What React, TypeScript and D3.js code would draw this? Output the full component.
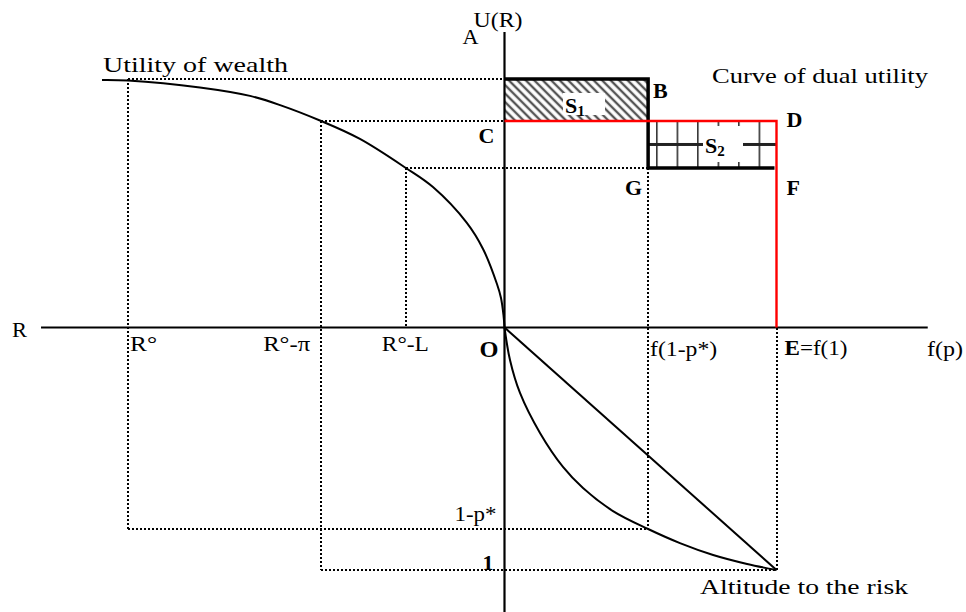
import React from 'react';
import * as d3 from 'd3';

// f(p) on the right, probability p downwards, wealth R on the left, utility U upwards
const utilityLevels = [1, 0.831, 0.642]; // A, C, G
const wealthLevels = [1, 0.487, 0.262]; // R°, R°-π, R°-L
const wealthLabels = ['R°', 'R°-π', 'R°-L'];
const probLevels = [0.831, 1]; // 1-p*, 1
const probLabels = ['1-p*', '1'];
const fStar = 0.528; // f(1-p*)

const wealthCurveR = [1.069, 1.0, 0.809, 0.676, 0.596, 0.487, 0.384, 0.262, 0.19, 0.1, 0.057, 0.02, 0.0093, 0.0027, 0];
const wealthCurveU = [0.996, 0.994, 0.966, 0.932, 0.895, 0.831, 0.759, 0.642, 0.565, 0.421, 0.316, 0.175, 0.119, 0.05, 0];

const riskCurveF = [0, 0.0202, 0.057, 0.1305, 0.215, 0.2886, 0.399, 0.528, 0.645, 0.767, 0.892, 1];
const riskCurveP = [0, 0.134, 0.27, 0.435, 0.575, 0.662, 0.757, 0.831, 0.889, 0.938, 0.975, 1];

const W = 966;
const H = 612;
const FONT = '"Liberation Serif", serif';

const xF = d3.scaleLinear().domain([0, 1]).range([504.5, 776.5]);
const xR = d3.scaleLinear().domain([0, 1]).range([504.5, 128]);
const yU = d3.scaleLinear().domain([0, 1]).range([327.5, 79]);
const yP = d3.scaleLinear().domain([0, 1]).range([327.5, 570]);

const Label = ({ x, y, w, size = 21, bold = false, children }: any) => (
  <text
    x={x}
    y={y}
    fontSize={size}
    fontWeight={bold ? 'bold' : 'normal'}
    textLength={w}
    lengthAdjust={w ? 'spacingAndGlyphs' : undefined}
  >
    {children}
  </text>
);

export default function App() {
  const [uA, uC, uG] = utilityLevels;
  const [rO, rPi, rL] = wealthLevels;
  const [pStar, pOne] = probLevels;
  const x0 = xF(0);
  const y0 = yU(0);

  const wealthPts: [number, number][] = wealthCurveR.map((r, i) => [xR(r), yU(wealthCurveU[i])]);
  const riskPts: [number, number][] = riskCurveF.map((f, i) => [xF(f), yP(riskCurveP[i])]);
  const line = d3.line().curve(d3.curveCatmullRom.alpha(0.5));

  const dotted: [number, number, number, number][] = [
    [xR(rO), yU(uA), x0, yU(uA)],
    [xR(rO), yU(uA), xR(rO), yP(pStar)],
    [xR(rPi), yU(uC), x0, yU(uC)],
    [xR(rPi), yU(uC), xR(rPi), yP(pOne)],
    [xR(rL), yU(uG), xF(fStar), yU(uG)],
    [xR(rL), yU(uG), xR(rL), y0],
    [xF(fStar), yU(uG), xF(fStar), yP(pStar)],
    [xR(rO), yP(pStar), xF(fStar), yP(pStar)],
    [xR(rPi), yP(pOne), xF(1), yP(pOne)],
    [xF(1), y0, xF(1), yP(pOne)],
  ];

  const blackStep = d3.line()([
    [x0, yU(uA)], [xF(fStar), yU(uA)], [xF(fStar), yU(uG)], [xF(1) - 2, yU(uG)],
  ]);
  const redStep = d3.line()([
    [x0, yU(uC)], [xF(1), yU(uC)], [xF(1), y0],
  ]);
  const s2h = yU(uG) - yU(uC);

  return (
    <svg width={W} height={H} style={{ position: 'absolute', left: 0, top: 0, background: '#fff' }}
      fontFamily={FONT}>
      <defs>
        <pattern id="diag" patternUnits="userSpaceOnUse" width="6" height="6"
          patternTransform="rotate(-45)">
          <line x1="3" y1="0" x2="3" y2="6" stroke="#555" strokeWidth="2.4" />
        </pattern>
        <pattern id="grid" patternUnits="userSpaceOnUse" x={xF(fStar) + 8} y={yU(uC)}
          width="20.5" height={s2h}>
          <line x1="0" y1="0" x2="0" y2="60" stroke="#222" strokeWidth="3" />
          <line x1="0" y1={s2h / 2} x2="21" y2={s2h / 2} stroke="#222" strokeWidth="3" />
        </pattern>
      </defs>

      {/* S1 and S2 areas */}
      <rect x={x0} y={yU(uA)} width={xF(fStar) - x0} height={yU(uC) - yU(uA)} fill="url(#diag)" />
      <rect x={xF(fStar)} y={yU(uC)} width={xF(1) - xF(fStar)} height={s2h} fill="url(#grid)" />
      <rect x={563} y={93} width={42} height={22} fill="#fff" />
      <rect x={703} y={126} width={40} height={36} fill="#fff" />

      {/* dotted guides */}
      {dotted.map(([a, b, c, d], i) => (
        <line key={i} x1={Math.round(a)} y1={Math.round(b)} x2={Math.round(c)} y2={Math.round(d)}
          stroke="#000" strokeWidth={2} strokeDasharray="2 2" shapeRendering="crispEdges" />
      ))}

      {/* axes */}
      <line x1={xR(1.231)} y1={y0} x2={xF(1.556)} y2={y0} stroke="#000" strokeWidth={2.2} />
      <line x1={x0} y1={yU(1.189)} x2={x0} y2={H} stroke="#000" strokeWidth={2.2} />

      {/* curves */}
      <path d={line(wealthPts) || ''} fill="none" stroke="#000" strokeWidth={2} />
      <path d={line(riskPts) || ''} fill="none" stroke="#000" strokeWidth={2} />
      <line x1={xF(0)} y1={yP(0)} x2={xF(1)} y2={yP(1)} stroke="#000" strokeWidth={2} />

      {/* dual utility steps */}
      <path d={blackStep || ''} fill="none" stroke="#000" strokeWidth={3.5} />
      <path d={redStep || ''} fill="none" stroke="#f00" strokeWidth={2.4} />

      {/* labels */}
      <Label x={103} y={72} w={185}>Utility of wealth</Label>
      <Label x={712} y={83} w={216}>Curve of dual utility</Label>
      <Label x={700} y={594} w={208}>Altitude to the risk</Label>
      <Label x={x0 - 31} y={27} w={49}>U(R)</Label>
      <Label x={x0 - 42} y={44} w={16}>A</Label>
      <Label x={12} y={337} w={15}>R</Label>
      <Label x={927} y={356} w={36}>f(p)</Label>
      {wealthLabels.map((t, i) => (
        <Label key={t} x={i === 0 ? xR(wealthLevels[i]) + 2 : xR(wealthLevels[i]) - (i === 1 ? 58 : 24)}
          y={351} w={i === 0 ? 27 : 47}>{t}</Label>
      ))}
      <Label x={x0 - 25} y={357} w={19} size={23} bold>O</Label>
      <Label x={xF(fStar) + 2} y={356} w={67}>f(1-p*)</Label>
      <text x={xF(1) + 8} y={355} fontSize={21} textLength={63} lengthAdjust="spacingAndGlyphs">
        <tspan fontWeight="bold">E</tspan>=f(1)
      </text>
      <Label x={x0 - 50} y={yP(probLevels[0]) - 8} w={42} size={22}>{probLabels[0]}</Label>
      <Label x={x0 - 22} y={yP(probLevels[1])} w={11} size={22} bold>{probLabels[1]}</Label>

      <Label x={xF(fStar) + 5} y={98} size={22} bold>B</Label>
      <Label x={x0 - 26} y={143} size={22} bold>C</Label>
      <Label x={xF(1) + 10} y={127} size={22} bold>D</Label>
      <Label x={xF(fStar) - 23} y={195} size={22} bold>G</Label>
      <Label x={xF(1) + 10} y={195} size={22} bold>F</Label>

      <text x={565} y={113} fontSize={22} fontWeight="bold">S<tspan fontSize={15} dy={3}>1</tspan></text>
      <text x={705} y={153} fontSize={22} fontWeight="bold">S<tspan fontSize={15} dy={3}>2</tspan></text>
    </svg>
  );
}
